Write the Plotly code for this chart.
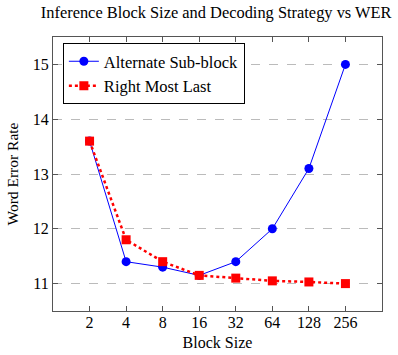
import plotly.graph_objects as go

block_sizes = [2, 4, 8, 16, 32, 64, 128, 256]
tick_labels = ["2", "4", "8", "16", "32", "64", "128", "256"]
alt_subblock = [13.6, 11.4, 11.3, 11.15, 11.4, 12.0, 13.1, 15.0]
right_most_last = [13.6, 11.8, 11.4, 11.15, 11.1, 11.05, 11.03, 11.0]

font = "Liberation Serif"
fs = 16

fig = go.Figure()
fig.add_trace(go.Scatter(
    x=block_sizes, y=alt_subblock, name="Alternate Sub-block",
    mode="lines+markers",
    line=dict(color="#0000ff", width=1),
    marker=dict(symbol="circle", size=9, color="#0000ff"),
))
fig.add_trace(go.Scatter(
    x=block_sizes, y=right_most_last, name="Right Most Last",
    mode="lines+markers",
    line=dict(color="#ff0000", width=2.5, dash="dot"),
    marker=dict(symbol="square", size=9, color="#ff0000"),
))

fig.update_layout(
    width=398, height=355,
    margin=dict(l=53, r=16, t=37, b=44, autoexpand=False),
    paper_bgcolor="white", plot_bgcolor="white",
    font=dict(family=font, size=fs, color="black"),
    title=dict(text="Inference Block Size and Decoding Strategy vs WER",
               x=0.543, xanchor="center", y=0.966, yanchor="middle",
               font=dict(size=16.4, family=font, color="black")),
    legend=dict(x=0.03, y=0.978, xanchor="left", yanchor="top",
                bordercolor="black", borderwidth=1, bgcolor="white",
                font=dict(size=16.5, family=font, color="black"), tracegroupgap=0,
                itemwidth=30),
    showlegend=True,
)
fig.update_xaxes(
    type="log", range=[0, 2.70927], tickvals=block_sizes, ticktext=tick_labels,
    tickfont=dict(family=font, size=fs, color="black"),
    showgrid=False, showline=True, linecolor="#555555", linewidth=1.2, mirror="ticks",
    ticks="inside", ticklen=5, tickcolor="#555555", automargin=False,
    ticklabelstandoff=-3,
    title=dict(text="Block Size", standoff=6, font=dict(family=font, size=fs, color="black")),
    zeroline=False,
)
fig.update_yaxes(
    range=[10.5, 15.5], tickvals=[11, 12, 13, 14, 15],
    tickfont=dict(family=font, size=fs, color="black"),
    showgrid=True, gridcolor="#bbbbbb", griddash="dash", gridwidth=1,
    showline=True, linecolor="#555555", linewidth=1.2, mirror="ticks",
    ticks="inside", ticklen=5, tickcolor="#555555", automargin=False,
    title=dict(text="Word Error Rate", font=dict(family=font, size=15.5, color="black"), standoff=10),
    zeroline=False,
)
fig.write_html("out.html", config={"displayModeBar": False},
               post_script="document.body.style.margin='0';")
